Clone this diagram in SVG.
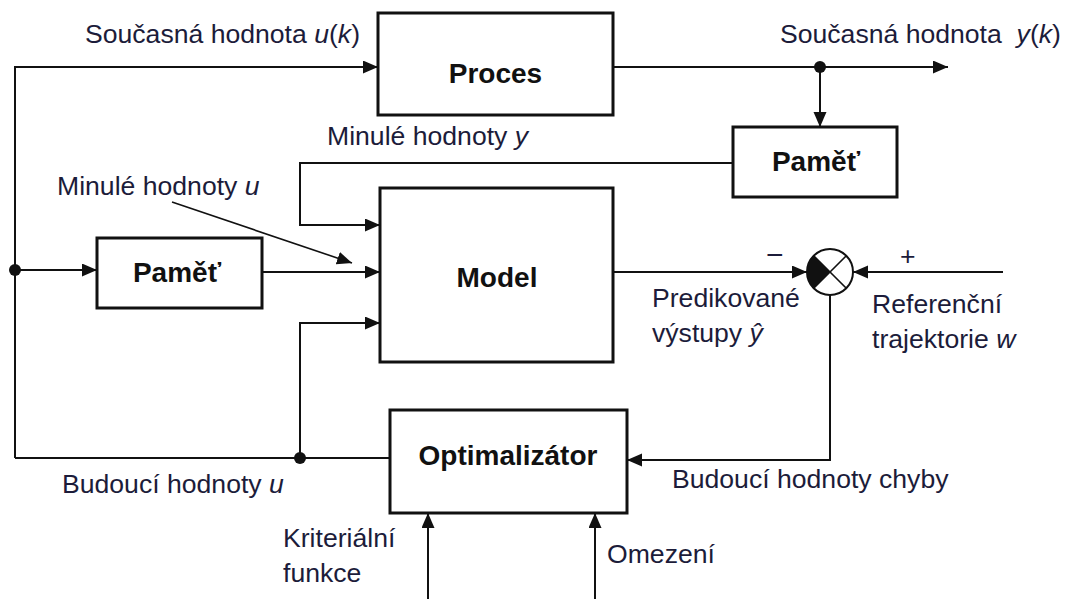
<svg xmlns="http://www.w3.org/2000/svg" width="1071" height="599" viewBox="0 0 1071 599">
  <defs>
    <marker id="arrow" markerUnits="userSpaceOnUse" markerWidth="16" markerHeight="14" refX="15" refY="6.5" orient="auto">
      <path d="M0,0 L15,6.5 L0,13 z" fill="#111"/>
    </marker>
    <style>
      .box { fill: #fff; stroke: #111; stroke-width: 3; }
      .wire { fill: none; stroke: #111; stroke-width: 2; }
      .dot { fill: #111; }
      .title { font-family: "Liberation Sans", Arial, sans-serif; font-weight: bold; font-size: 28px; fill: #111; text-anchor: middle; }
      .lbl { font-family: "Liberation Sans", Arial, sans-serif; font-size: 26.6px; fill: #1c1c3a; }
      .it { font-style: italic; }
      .sign { font-family: "Liberation Sans", Arial, sans-serif; font-size: 30px; fill: #1c1c3a; }
    </style>
  </defs>
  <rect width="1071" height="599" fill="#fff"/>

  <!-- connectors -->
  <g id="connectors">
    <!-- input u(k) to the process, with the main left bus -->
    <path class="wire" d="M15,458 L15,67 L378,67" marker-end="url(#arrow)"/>
    <!-- process output y(k) -->
    <path class="wire" d="M613,67 L948,67" marker-end="url(#arrow)"/>
    <!-- y(k) into memory -->
    <path class="wire" d="M820,67 L820,127" marker-end="url(#arrow)"/>
    <!-- past y values into the model -->
    <path class="wire" d="M733,163 L300,163 L300,225 L380,225" marker-end="url(#arrow)"/>
    <!-- bus into left memory -->
    <path class="wire" d="M15,270 L97,270" marker-end="url(#arrow)"/>
    <!-- past u values into the model -->
    <path class="wire" d="M262,272 L380,272" marker-end="url(#arrow)"/>
    <!-- pointer for the "past u" label -->
    <path class="wire" style="stroke-width:1.6" d="M172,202 L352,263" marker-end="url(#arrow)"/>
    <!-- future u values into the model -->
    <path class="wire" d="M300,458 L300,323 L380,323" marker-end="url(#arrow)"/>
    <!-- optimizer output back to the bus -->
    <path class="wire" d="M390,458 L15,458"/>
    <!-- predicted outputs into the summing junction -->
    <path class="wire" d="M613,272 L807,272" marker-end="url(#arrow)"/>
    <!-- reference trajectory into the summing junction -->
    <path class="wire" d="M1003,272 L853,272" marker-end="url(#arrow)"/>
    <!-- future error into the optimizer -->
    <path class="wire" d="M830,295 L830,460 L627,460" marker-end="url(#arrow)"/>
    <!-- cost function and constraints -->
    <path class="wire" d="M428,599 L428,513" marker-end="url(#arrow)"/>
    <path class="wire" d="M595,599 L595,513" marker-end="url(#arrow)"/>
    <!-- junction dots -->
    <circle class="dot" cx="820" cy="67" r="6"/>
    <circle class="dot" cx="15" cy="270" r="6"/>
    <circle class="dot" cx="300" cy="458" r="6"/>
  </g>

  <g id="proces">
    <rect class="box" x="378" y="13" width="235" height="102"/>
    <text class="title" x="495.5" y="83">Proces</text>
  </g>

  <g id="pamet-y">
    <rect class="box" x="733" y="127" width="164" height="70"/>
    <text class="title" x="816" y="171">Paměť</text>
  </g>

  <g id="pamet-u">
    <rect class="box" x="97" y="238" width="165" height="70"/>
    <text class="title" x="177" y="282">Paměť</text>
  </g>

  <g id="model">
    <rect class="box" x="380" y="188" width="233" height="174"/>
    <text class="title" x="497" y="287">Model</text>
  </g>

  <g id="optimalizator">
    <rect class="box" x="390" y="410" width="237" height="103"/>
    <text class="title" x="508" y="465">Optimalizátor</text>
  </g>

  <g id="sumator">
    <circle cx="830" cy="272" r="23" fill="#fff" stroke="#111" stroke-width="2"/>
    <path d="M813.7,255.7 L830,272 L813.7,288.3 A23,23 0 0 1 813.7,255.7 z" fill="#111"/>
    <path d="M813.7,255.7 L846.3,288.3 M846.3,255.7 L813.7,288.3" stroke="#111" stroke-width="1.6"/>
  </g>

  <!-- signal labels -->
  <g id="labels">
    <text class="lbl" x="85" y="43">Současná hodnota <tspan class="it">u</tspan>(<tspan class="it">k</tspan>)</text>
    <text class="lbl" x="780" y="43" xml:space="preserve">Současná hodnota  <tspan class="it">y</tspan>(<tspan class="it">k</tspan>)</text>
    <text class="lbl" x="327" y="145">Minulé hodnoty <tspan class="it">y</tspan></text>
    <text class="lbl" x="57" y="195">Minulé hodnoty <tspan class="it">u</tspan></text>
    <text class="sign" x="766" y="265">−</text>
    <text class="lbl" x="900" y="265">+</text>
    <text class="lbl" x="652" y="307">Predikované</text>
    <text class="lbl" x="652" y="342">výstupy <tspan class="it">ŷ</tspan></text>
    <text class="lbl" x="872" y="313">Referenční</text>
    <text class="lbl" x="872" y="348">trajektorie <tspan class="it">w</tspan></text>
    <text class="lbl" x="62" y="493">Budoucí hodnoty <tspan class="it">u</tspan></text>
    <text class="lbl" x="672" y="488">Budoucí hodnoty chyby</text>
    <text class="lbl" x="283" y="547">Kriteriální</text>
    <text class="lbl" x="283" y="582">funkce</text>
    <text class="lbl" x="607" y="563">Omezení</text>
  </g>
</svg>
